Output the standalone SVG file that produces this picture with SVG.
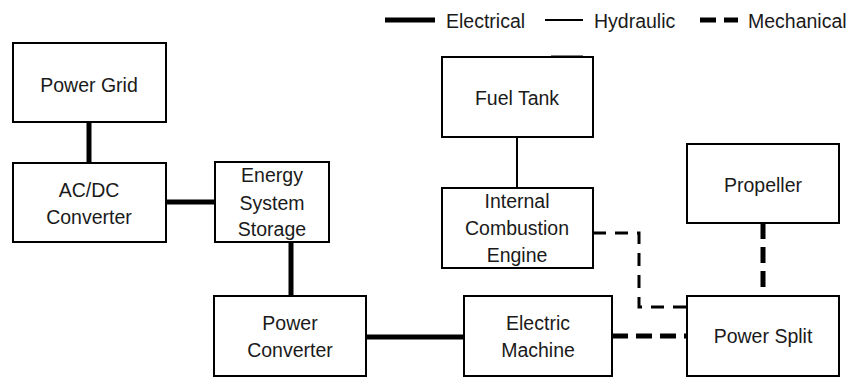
<svg xmlns="http://www.w3.org/2000/svg" width="858" height="377" viewBox="0 0 858 377">
<style>
.box{fill:#fff;stroke:#000;stroke-width:2}
text{font-family:"Liberation Sans",Arial,sans-serif;font-size:19.5px;fill:#1a1a1a;text-anchor:middle}
.leg{text-anchor:start}
.el{stroke:#000;stroke-width:5;fill:none}
.hy{stroke:#000;stroke-width:2;fill:none}
.me{stroke:#000;stroke-width:5;fill:none;stroke-dasharray:16 8}
.me2{stroke:#000;stroke-width:3;fill:none;stroke-dasharray:13 9}
</style>
<rect width="858" height="377" fill="#fff"/>
<g id="legend">
<line class="el" x1="385" y1="20" x2="435" y2="20"/>
<text class="leg" x="446" y="28">Electrical</text>
<line class="hy" x1="545" y1="20" x2="583" y2="20"/>
<text class="leg" x="594" y="28">Hydraulic</text>
<line class="me" x1="700" y1="20" x2="738" y2="20" stroke-dasharray="17 5"/>
<text class="leg" x="748" y="28">Mechanical</text>
</g>
<g id="connectors">
<line class="el" x1="89" y1="122" x2="89" y2="163"/>
<line class="el" x1="166" y1="202" x2="215" y2="202"/>
<line class="el" x1="291" y1="242" x2="291" y2="296"/>
<line class="el" x1="366" y1="337" x2="464" y2="337"/>
<line class="hy" x1="517" y1="137" x2="517" y2="188"/>
<polyline class="me2" points="593,233 639,233 639,307 687,307"/>
<line class="me" x1="763" y1="223" x2="763" y2="296"/>
<line class="me" x1="612" y1="336" x2="687" y2="336"/>
</g>
<g id="power-grid"><rect class="box" x="13" y="43" width="153" height="79"/><text x="89" y="92">Power Grid</text></g>
<g id="acdc"><rect class="box" x="13" y="163" width="153" height="79"/><text x="89" y="197">AC/DC</text><text x="89" y="224">Converter</text></g>
<g id="ess"><rect class="box" x="215" y="162" width="114" height="80"/><text x="272" y="182">Energy</text><text x="272" y="210">System</text><text x="272" y="236">Storage</text></g>
<g id="power-converter"><rect class="box" x="214" y="296" width="152" height="80"/><text x="290" y="330">Power</text><text x="290" y="357">Converter</text></g>
<g id="electric-machine"><rect class="box" x="464" y="296" width="148" height="80"/><text x="538" y="330">Electric</text><text x="538" y="357">Machine</text></g>
<g id="fuel-tank"><rect class="box" x="442" y="57" width="151" height="80"/><line x1="551" y1="56.5" x2="583" y2="56.5" stroke="#000" stroke-width="2"/><text x="517" y="105">Fuel Tank</text></g>
<g id="ice"><rect class="box" x="442" y="188" width="151" height="80"/><text x="517" y="208">Internal</text><text x="517" y="235">Combustion</text><text x="517" y="262">Engine</text></g>
<g id="propeller"><rect class="box" x="687" y="144" width="152" height="79"/><text x="763" y="192">Propeller</text></g>
<g id="power-split"><rect class="box" x="687" y="296" width="152" height="80"/><text x="763" y="343">Power Split</text></g>
</svg>
